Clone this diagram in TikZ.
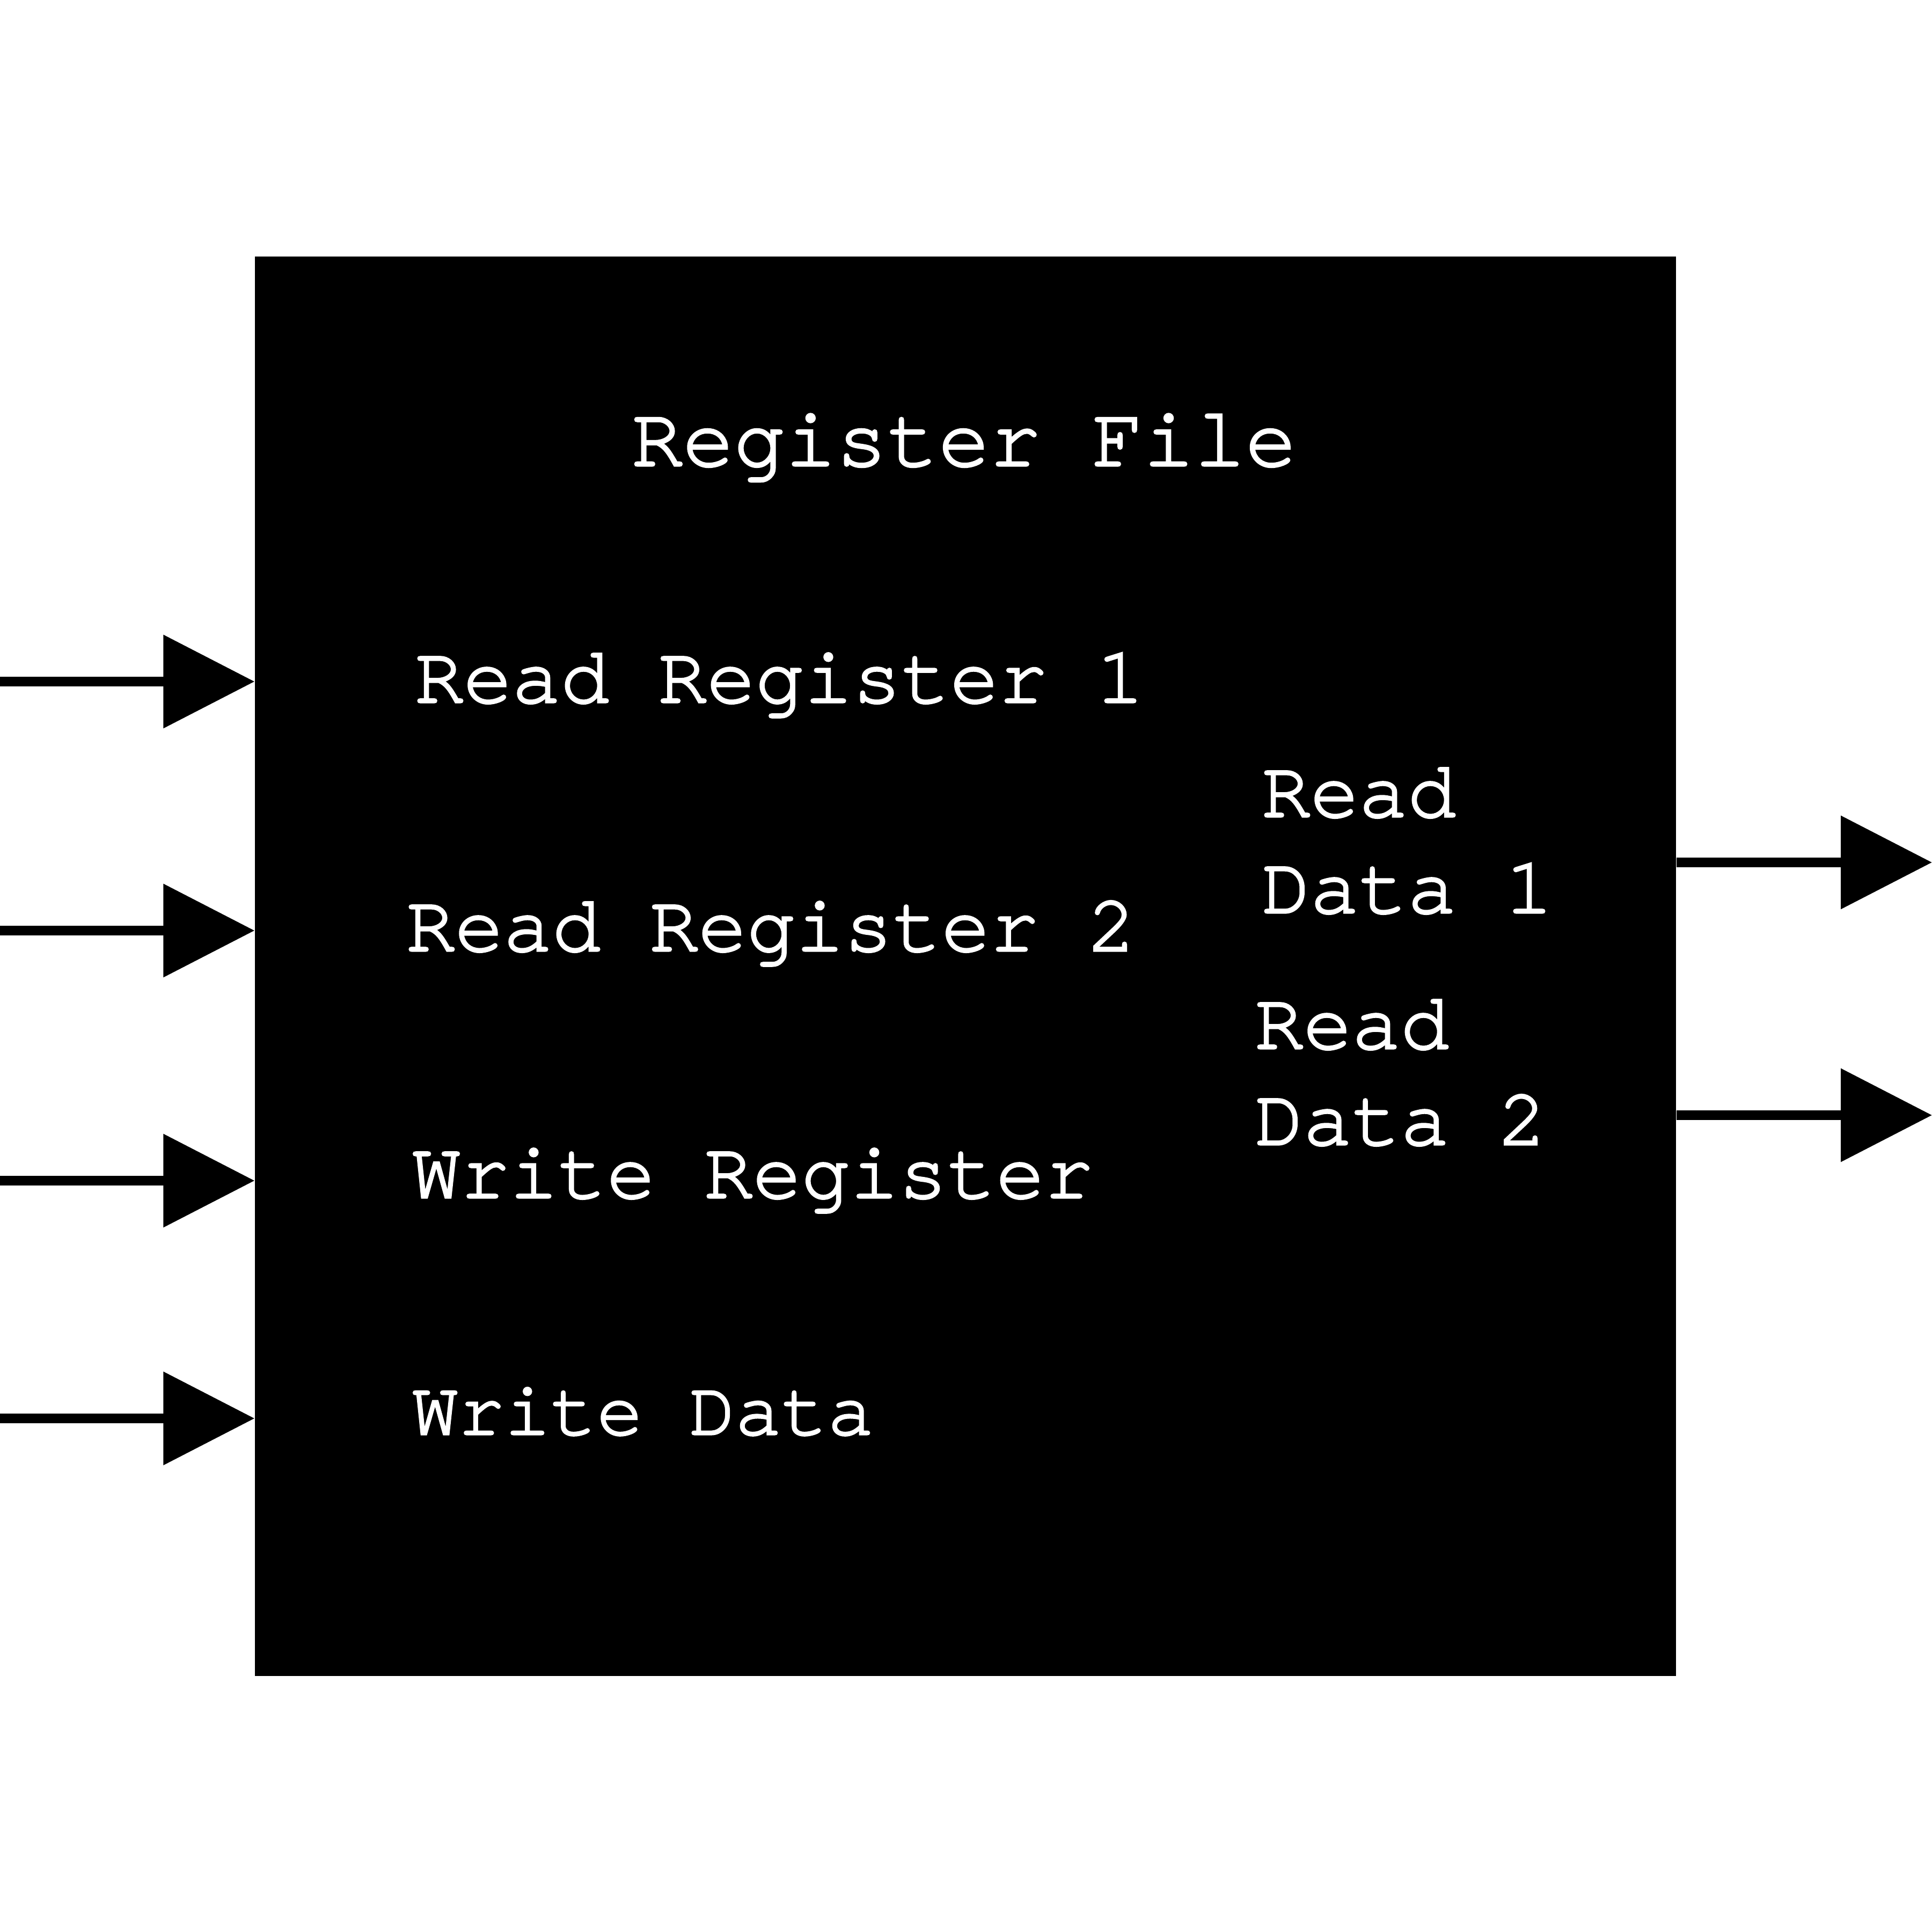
\documentclass[tikz,border=0pt]{standalone}
\usepackage{fontspec}
\newfontfamily\monofam[FakeBold=2.2]{TeX Gyre Cursor}
\usetikzlibrary{arrows.meta}
\begin{document}
\begin{tikzpicture}[
  box/.style={fill=black, draw=none, minimum width=26.48cm, minimum height=26.45cm, inner sep=0pt},
  lbl/.style={text=white, anchor=base west, inner sep=0pt, font=\monofam\fontsize{43}{47}\selectfont},
  titlelbl/.style={lbl, font=\monofam\fontsize{45.2}{49}\selectfont},
  smalllbl/.style={lbl, font=\monofam\fontsize{40.8}{45}\selectfont},
  sig/.style={line width=0.18cm, -{Triangle[length=1.7cm, width=1.7cm]}}
]
\useasboundingbox (0,0) rectangle (36,36);
\fill[white] (0,0) rectangle (36,36);
\node[box] (rf) at (17.99,17.995) {};

\node[titlelbl] (title) at (11.76,27.32) {Register File};
\node[lbl] (rr1) at (7.72,22.91) {Read Register 1};
\node[lbl] (rr2) at (7.56,18.28) {Read Register 2};
\node[lbl] (wr) at (7.67,13.68) {Write Register};
\node[smalllbl] (wd) at (7.67,9.27) {Write Data};
\node[lbl] (rd1a) at (23.50,20.78) {Read};
\node[lbl] (rd1b) at (23.50,18.99) {Data 1};
\node[lbl] (rd2a) at (23.37,16.46) {Read};
\node[lbl] (rd2b) at (23.37,14.67) {Data 2};

\coordinate (in1) at (0,23.30);
\coordinate (in2) at (0,18.66);
\coordinate (in3) at (0,14.00);
\coordinate (in4) at (0,9.57);
\coordinate (out1) at (36,19.93);
\coordinate (out2) at (36,15.22);

\draw[sig] (in1) -- (in1 -| rf.west);
\draw[sig] (in2) -- (in2 -| rf.west);
\draw[sig] (in3) -- (in3 -| rf.west);
\draw[sig] (in4) -- (in4 -| rf.west);
\draw[sig] (out1 -| rf.east) -- (out1);
\draw[sig] (out2 -| rf.east) -- (out2);
\end{tikzpicture}
\end{document}
